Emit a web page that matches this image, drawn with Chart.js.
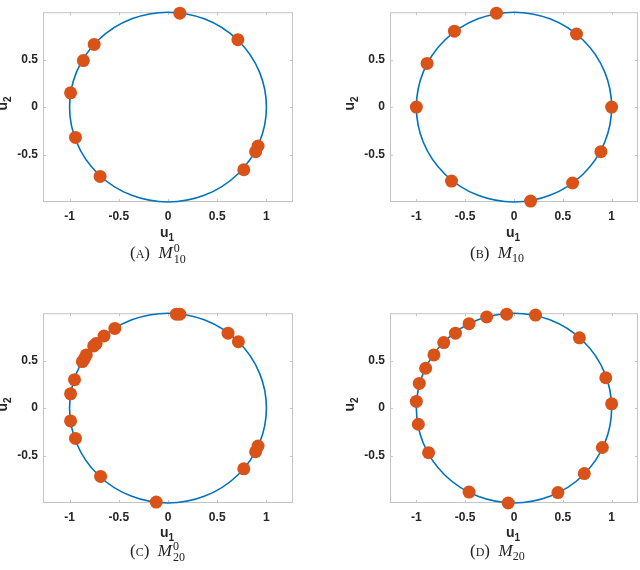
<!DOCTYPE html>
<html lang="en">
<head>
<meta charset="utf-8" />
<title>Points on the unit circle</title>
<script src="https://cdn.jsdelivr.net/npm/chart.js@4.4.1/dist/chart.umd.min.js"></script>
<style>
  html, body { margin: 0; padding: 0; background: #fff; }
  .page { position: relative; width: 640px; height: 570px; overflow: hidden; }
  .page canvas { position: absolute; }
  .axlab { position: absolute; font-family: "Liberation Sans", Arial, sans-serif; font-weight: bold;
           font-size: 14px; color: #262626; white-space: nowrap; }
  .axlab sub { font-size: 10px; vertical-align: -4px; }
  .ylab { transform: rotate(-90deg); transform-origin: center center; }
  .cap { position: absolute; font-family: "Liberation Serif", "DejaVu Serif", serif; font-size: 17px;
         color: #222; white-space: nowrap; }
  .cap .sc { font-variant: small-caps; }
  .cap .ss { display: inline-flex; flex-direction: column; vertical-align: middle; font-size: 12px;
             line-height: 11px; margin-left: 1px; }
  .cap sub { font-size: 12px; }
</style>
</head>
<body>
<div class="page">
  <canvas id="cA" width="300" height="230" style="left:0;top:0"></canvas>
  <canvas id="cB" width="293" height="230" style="left:347px;top:0"></canvas>
  <canvas id="cC" width="300" height="230" style="left:0;top:301px"></canvas>
  <canvas id="cD" width="293" height="230" style="left:347px;top:301px"></canvas>

  <div class="axlab" style="left:160px;top:224px">u<sub>1</sub></div>
  <div class="axlab" style="left:506px;top:224px">u<sub>1</sub></div>
  <div class="axlab" style="left:160px;top:524px">u<sub>1</sub></div>
  <div class="axlab" style="left:506px;top:524px">u<sub>1</sub></div>

  <div class="axlab ylab" style="left:-4px;top:94px">u<sub>2</sub></div>
  <div class="axlab ylab" style="left:343px;top:94px">u<sub>2</sub></div>
  <div class="axlab ylab" style="left:-4px;top:395px">u<sub>2</sub></div>
  <div class="axlab ylab" style="left:343px;top:395px">u<sub>2</sub></div>

  <div class="cap" style="left:130px;top:243px">(<span class="sc">a</span>)&nbsp;&nbsp;<i>M</i><span class="ss"><span>0</span><span>10</span></span></div>
  <div class="cap" style="left:470px;top:243px">(<span class="sc">b</span>)&nbsp;&nbsp;<i>M</i><sub>10</sub></div>
  <div class="cap" style="left:130px;top:541px">(<span class="sc">c</span>)&nbsp;&nbsp;<i>M</i><span class="ss"><span>0</span><span>20</span></span></div>
  <div class="cap" style="left:470px;top:541px">(<span class="sc">d</span>)&nbsp;&nbsp;<i>M</i><sub>20</sub></div>
</div>

<script>
// tick values
var xTicks = [-1, -0.5, 0, 0.5, 1];
var yTicks = [-0.5, 0, 0.5];

// (A) M_10^0
var aU1 = [0.12, 0.71, -0.75, -0.86, -0.99, -0.94, -0.69, 0.77, 0.915, 0.89];
var aU2 = [0.99, 0.71, 0.66, 0.49, 0.15, -0.32, -0.73, -0.66, -0.41, -0.47];

// (B) M_10
var bU1 = [-0.18, -0.61, 0.64, -0.89, -1.0, 1.0, 0.89, -0.64, 0.60, 0.17];
var bU2 = [0.99, 0.80, 0.77, 0.46, 0.0, 0.0, -0.47, -0.78, -0.80, -0.99];

// (C) M_20^0
var cU1 = [0.085, 0.12, 0.61, 0.715, -0.54, -0.65, -0.73, -0.755, -0.83, -0.85, -0.87,
           -0.95, -0.99, -0.99, -0.94, -0.685, -0.12, 0.77, 0.915, 0.89];
var cU2 = [0.99, 0.99, 0.79, 0.70, 0.84, 0.76, 0.68, 0.655, 0.56, 0.52, 0.49,
           0.30, 0.15, -0.135, -0.32, -0.72, -0.99, -0.64, -0.40, -0.46];

// (D) M_20
var dU1 = [-0.075, 0.22, -0.28, -0.46, -0.60, -0.72, -0.82, -0.905, -0.97, -1.0,
           -0.98, -0.875, -0.46, -0.06, 0.45, 0.72, 0.905, 1.0, 0.94, 0.67];
var dU2 = [0.99, 0.98, 0.96, 0.89, 0.79, 0.69, 0.56, 0.42, 0.26, 0.07,
           -0.17, -0.47, -0.885, -1.0, -0.89, -0.69, -0.415, 0.045, 0.32, 0.74];

var blue = '#0072BD';
var orange = '#D95319';

// unit circle + MATLAB-like box with inward ticks
var framePlugin = {
  id: 'frame',
  beforeDatasetsDraw: function(chart) {
    var ctx = chart.ctx, xs = chart.scales.x, ys = chart.scales.y;
    var cx = xs.getPixelForValue(0), cy = ys.getPixelForValue(0);
    var rx = xs.getPixelForValue(1) - cx, ry = cy - ys.getPixelForValue(1);
    var a = chart.chartArea;
    ctx.save();
    ctx.strokeStyle = '#c4c4c4';
    ctx.lineWidth = 1;
    ctx.strokeRect(a.left + 0.5, a.top + 0.5, a.right - a.left - 1, a.bottom - a.top - 1);
    ctx.beginPath();
    xTicks.forEach(function(v) {
      var px = Math.round(xs.getPixelForValue(v)) + 0.5;
      ctx.moveTo(px, a.bottom); ctx.lineTo(px, a.bottom - 3);
      ctx.moveTo(px, a.top); ctx.lineTo(px, a.top + 3);
    });
    yTicks.forEach(function(v) {
      var py = Math.round(ys.getPixelForValue(v)) + 0.5;
      ctx.moveTo(a.left, py); ctx.lineTo(a.left + 3, py);
      ctx.moveTo(a.right, py); ctx.lineTo(a.right - 3, py);
    });
    ctx.stroke();
    ctx.strokeStyle = blue;
    ctx.lineWidth = 1.6;
    ctx.beginPath();
    ctx.ellipse(cx, cy, rx, ry, 0, 0, Math.PI * 2);
    ctx.stroke();
    ctx.restore();
  }
};

function makePanel(id, u1, u2, padRight) {
  var pts = u1.map(function(v, i) { return { x: v, y: u2[i] }; });
  return new Chart(document.getElementById(id), {
    type: 'scatter',
    data: {
      datasets: [{
        data: pts,
        pointRadius: 6.5,
        pointHoverRadius: 6.5,
        backgroundColor: orange,
        borderColor: orange,
        borderWidth: 0,
        clip: false
      }]
    },
    options: {
      responsive: false,
      animation: false,
      events: [],
      layout: { autoPadding: false, padding: { top: 6, right: padRight, left: 0, bottom: 0 } },
      plugins: { legend: { display: false }, tooltip: { enabled: false } },
      scales: {
        x: {
          type: 'linear', min: -1.27, max: 1.27,
          afterBuildTicks: function(s) { s.ticks = xTicks.map(function(v) { return { value: v }; }); },
          afterFit: function(s) { s.height = 28; },
          grid: { display: false, drawTicks: false },
          border: { display: false },
          ticks: {
            padding: 7, color: '#262626',
            font: { family: 'Liberation Sans', size: 12, weight: 'bold' },
            callback: function(v) { return String(v); }
          }
        },
        y: {
          type: 'linear', min: -1, max: 1,
          afterBuildTicks: function(s) { s.ticks = yTicks.map(function(v) { return { value: v }; }); },
          afterFit: function(s) { s.width = 43; },
          grid: { display: false, drawTicks: false },
          border: { display: false },
          ticks: {
            padding: 5, color: '#262626',
            font: { family: 'Liberation Sans', size: 12, weight: 'bold' },
            callback: function(v) { return String(v); }
          }
        }
      }
    },
    plugins: [framePlugin]
  });
}

makePanel('cA', aU1, aU2, 7);
makePanel('cB', bU1, bU2, 2);
makePanel('cC', cU1, cU2, 7);
makePanel('cD', dU1, dU2, 2);
</script>
</body>
</html>
